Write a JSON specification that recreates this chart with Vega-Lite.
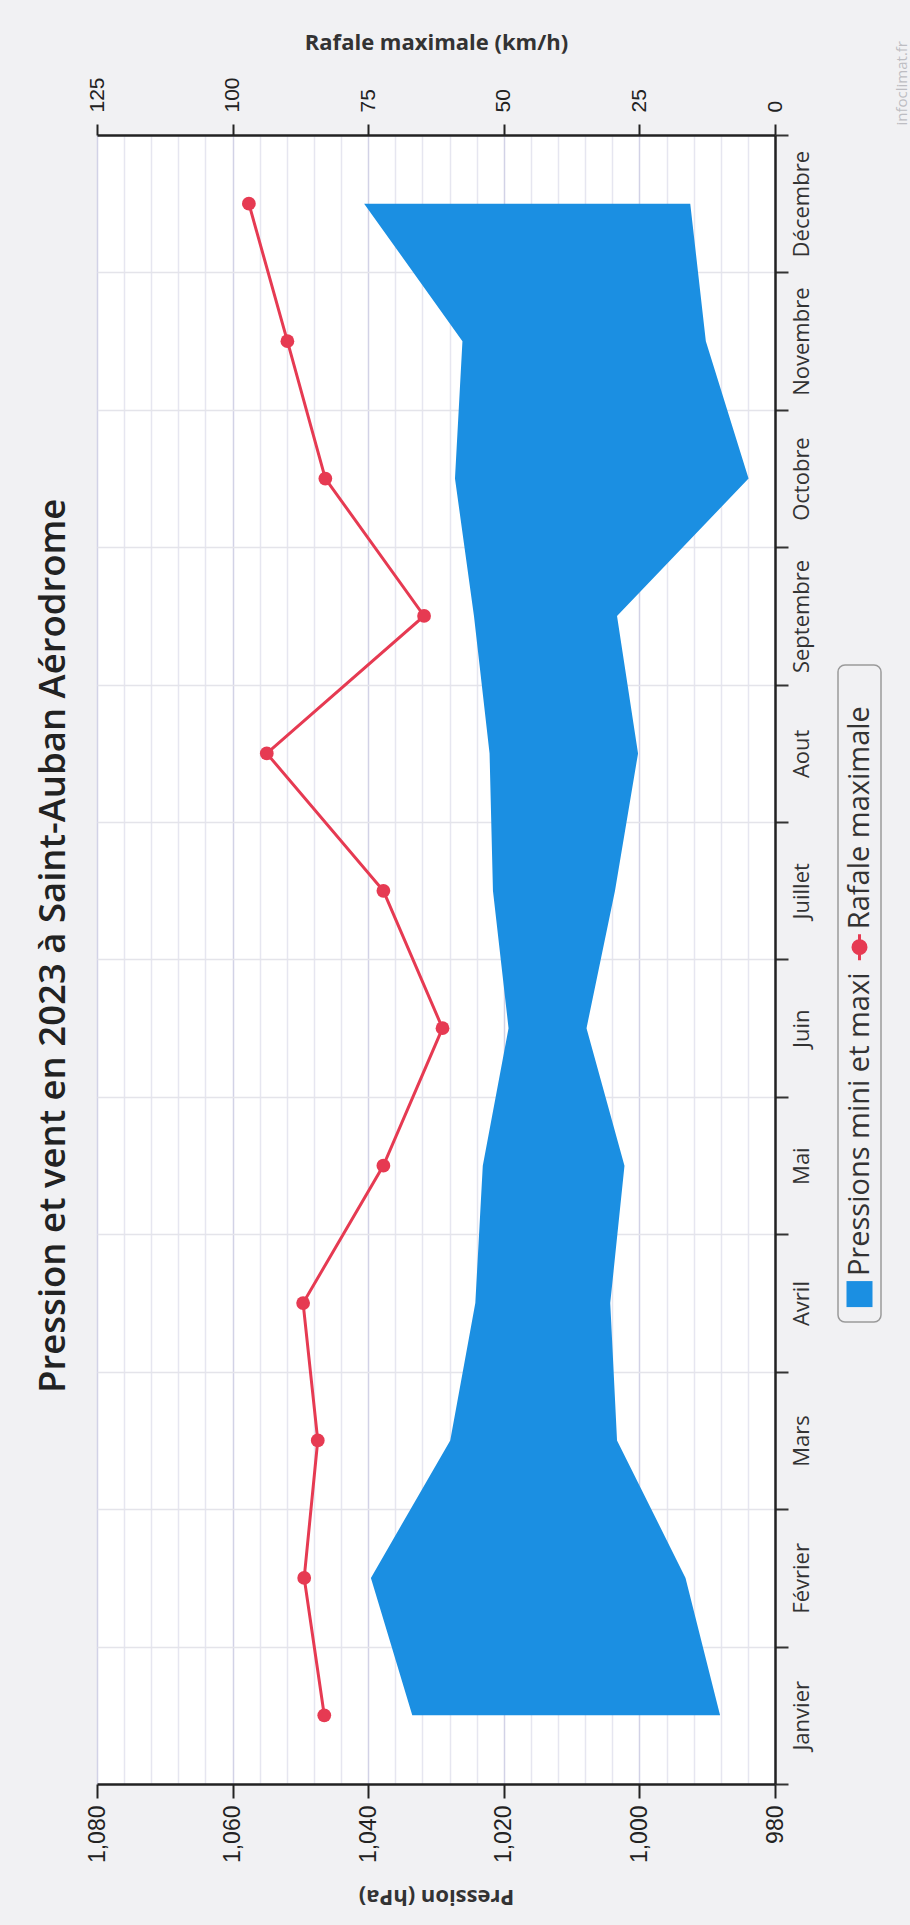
{
  "$schema": "https://vega.github.io/schema/vega-lite/v6.json",
  "autosize": {"type": "pad"},
  "padding": {"left": 35, "top": 31, "right": 30, "bottom": 40},
  "background": "#f1f1f3",
  "config": {"view": {"stroke": null}},
  "title": {
    "text": "Pression et vent en 2023 à Saint-Auban Aérodrome",
    "orient": "left",
    "anchor": "middle",
    "font": "Open Sans",
    "fontSize": 36.5,
    "fontWeight": 600,
    "color": "#222222",
    "offset": 14,
    "dx": 24
  },
  "bounds": "flush",
  "spacing": 63,
  "hconcat": [
    {
      "width": 678,
      "height": 1649,
      "view": {"fill": "white", "stroke": null},
      "data": {
        "values": [
          {"mois": "Janvier", "pmin": 988.1, "pmax": 1033.5, "rafale": 83.1},
          {"mois": "Février", "pmin": 993.2, "pmax": 1039.6, "rafale": 86.8},
          {"mois": "Mars", "pmin": 1003.3, "pmax": 1027.9, "rafale": 84.3},
          {"mois": "Avril", "pmin": 1004.3, "pmax": 1024.2, "rafale": 87.0},
          {"mois": "Mai", "pmin": 1002.2, "pmax": 1023.1, "rafale": 72.2},
          {"mois": "Juin", "pmin": 1007.8, "pmax": 1019.3, "rafale": 61.3},
          {"mois": "Juillet", "pmin": 1003.6, "pmax": 1021.6, "rafale": 72.2},
          {"mois": "Aout", "pmin": 1000.2, "pmax": 1022.1, "rafale": 93.7},
          {"mois": "Septembre", "pmin": 1003.3, "pmax": 1024.4, "rafale": 64.7},
          {"mois": "Octobre", "pmin": 983.9, "pmax": 1027.2, "rafale": 82.9},
          {"mois": "Novembre", "pmin": 990.2, "pmax": 1026.1, "rafale": 89.9},
          {"mois": "Décembre", "pmin": 992.5, "pmax": 1040.6, "rafale": 97.0}
        ]
      },
      "encoding": {
        "y": {
          "field": "mois",
          "type": "ordinal",
          "bandPosition": 0.5,
          "sort": ["Décembre", "Novembre", "Octobre", "Septembre", "Aout", "Juillet", "Juin", "Mai", "Avril", "Mars", "Février", "Janvier"],
          "scale": {"type": "band", "paddingInner": 0, "paddingOuter": 0},
          "axis": {
            "orient": "right",
            "title": "infoclimat.fr",
            "titleAngle": -90,
            "titleAlign": "left",
            "titleBaseline": "bottom",
            "titleAnchor": "end",
            "titleX": 134,
            "titleY": -10,
            "titleFont": "Open Sans",
            "titleFontSize": 15,
            "titleFontWeight": "normal",
            "titleColor": "#bdbdc2",
            "labelAngle": -90,
            "labelAlign": "center",
            "labelBaseline": "top",
            "labelFont": "Open Sans",
            "labelFontSize": 22,
            "labelColor": "#333333",
            "labelPadding": 3,
            "tickBand": "extent",
            "tickSize": 13,
            "tickColor": "#333333",
            "tickWidth": 2,
            "domainColor": "#222222",
            "domainWidth": 2.5,
            "grid": true,
            "gridColor": "#e4e4ea",
            "gridWidth": 1.5
          }
        }
      },
      "layer": [
        {
          "mark": {"type": "area", "orient": "horizontal", "color": "#1b8fe2", "opacity": 1},
          "encoding": {
            "x": {
              "field": "pmax",
              "type": "quantitative",
              "scale": {"domain": [980, 1080], "reverse": true, "nice": false, "zero": false},
              "axis": {
                "orient": "bottom",
                "title": "Pression (hPa)",
                "titleAngle": 180,
                "titleBaseline": "bottom",
                "titleFont": "Open Sans",
                "titleFontSize": 22,
                "titleFontWeight": "bold",
                "titleColor": "#333333",
                "titlePadding": 22,
                "values": [980, 984, 988, 992, 996, 1000, 1004, 1008, 1012, 1016, 1020, 1024, 1028, 1032, 1036, 1040, 1044, 1048, 1052, 1056, 1060, 1064, 1068, 1072, 1076, 1080],
                "labelExpr": "datum.value % 20 === 0 ? format(datum.value, ',') : ''",
                "labelAngle": -90,
                "labelAlign": "right",
                "labelBaseline": "middle",
                "labelFont": "Liberation Sans",
                "labelFontSize": 23,
                "labelColor": "#222222",
                "labelPadding": 7,
                "labelFlush": false,
                "labelOverlap": false,
                "tickSize": 14,
                "tickWidth": 2,
                "tickColor": "#222222",
                "tickOpacity": {"condition": {"test": "datum.value % 20 === 0", "value": 1}, "value": 0},
                "domainColor": "#222222",
                "domainWidth": 2.5,
                "grid": true,
                "gridColor": {"condition": {"test": "datum.value % 20 === 0", "value": "#d2d2e6"}, "value": "#e6e6f0"},
                "gridWidth": 1.5
              }
            },
            "x2": {"field": "pmin"}
          }
        },
        {
          "layer": [
            {
              "mark": {"type": "line", "strokeWidth": 3, "color": "#e63a52"},
              "encoding": {
                "x": {
                  "field": "rafale",
                  "type": "quantitative",
                  "scale": {"domain": [0, 125], "reverse": true, "nice": false, "zero": true},
                  "axis": {
                    "orient": "top",
                    "title": "Rafale maximale (km/h)",
                    "titleFont": "Open Sans",
                    "titleFontSize": 22,
                    "titleFontWeight": "bold",
                    "titleColor": "#333333",
                    "titlePadding": 22,
                    "values": [0, 25, 50, 75, 100, 125],
                    "labelAngle": -90,
                    "labelAlign": "left",
                    "labelBaseline": "middle",
                    "labelFont": "Liberation Sans",
                    "labelFontSize": 21,
                    "labelColor": "#222222",
                    "labelPadding": 12,
                    "labelFlush": false,
                    "labelOverlap": false,
                    "tickSize": 11,
                    "tickWidth": 2,
                    "tickColor": "#222222",
                    "domainColor": "#222222",
                    "domainWidth": 2.5,
                    "grid": false
                  }
                }
              }
            },
            {
              "mark": {"type": "point", "filled": true, "size": 190, "opacity": 1, "color": "#e63a52"},
              "encoding": {
                "x": {"field": "rafale", "type": "quantitative"}
              }
            }
          ]
        }
      ],
      "resolve": {"scale": {"x": "independent"}, "axis": {"x": "independent"}}
    },
    {
      "bounds": "flush",
      "spacing": 0,
      "vconcat": [
        {
          "width": 43,
          "height": 530,
          "view": {"stroke": null},
          "data": {"values": []},
          "mark": "point"
        },
        {
          "width": 43,
          "height": 657,
          "view": {"stroke": "#9a9a9a", "strokeWidth": 1.5, "cornerRadius": 7, "fill": null},
          "data": {"values": [{"serie": "Rafale maximale"}, {"serie": "Pressions mini et maxi"}]},
          "encoding": {
            "y": {
              "field": "serie",
              "type": "nominal",
              "scale": {"type": "point", "domain": ["Rafale maximale", "Pressions mini et maxi"], "padding": 0.447, "align": 0.91},
              "axis": null
            }
          },
          "layer": [
            {
              "mark": {"type": "text", "angle": 270, "align": "left", "baseline": "middle", "dx": 18, "font": "Open Sans", "fontSize": 29, "color": "#333333"},
              "encoding": {"text": {"field": "serie"}}
            },
            {
              "transform": [{"filter": "datum.serie === 'Rafale maximale'"}],
              "mark": {"type": "point", "shape": "M0,-1L0,1M0.5,0A0.5,0.5,0,1,1,-0.5,0A0.5,0.5,0,1,1,0.5,0Z", "filled": true, "fill": "#e63a52", "stroke": "#e63a52", "strokeWidth": 3, "size": 676, "opacity": 1}
            },
            {
              "transform": [{"filter": "datum.serie === 'Pressions mini et maxi'"}],
              "mark": {"type": "square", "color": "#1b8fe2", "size": 676, "opacity": 1}
            }
          ]
        }
      ]
    }
  ]
}
